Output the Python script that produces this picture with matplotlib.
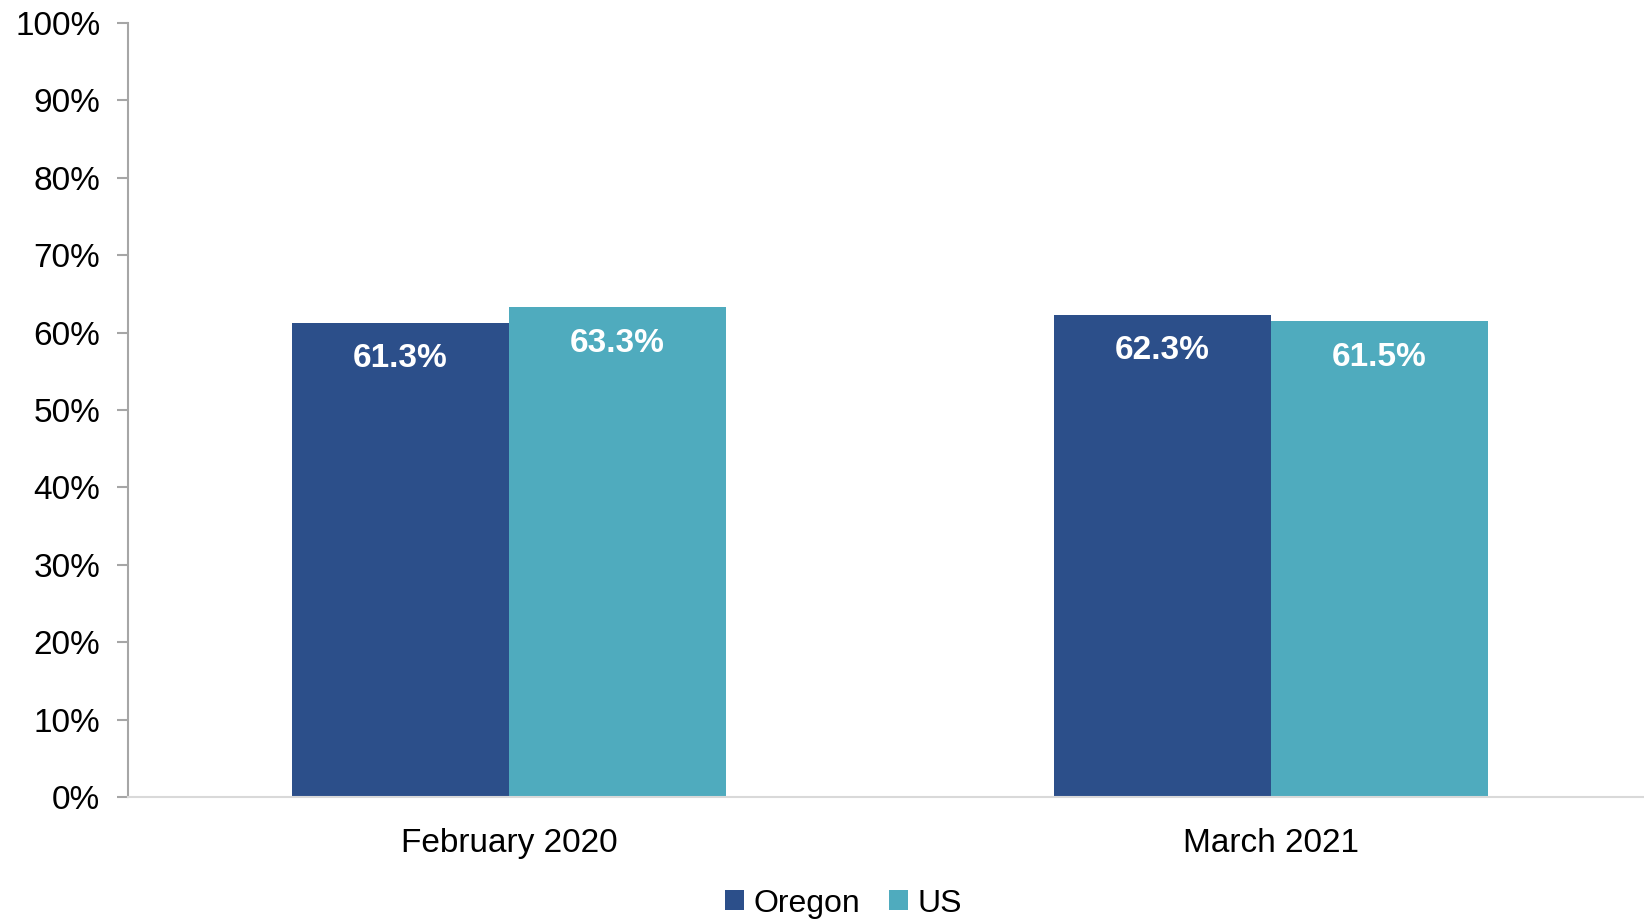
import matplotlib.pyplot as plt
import numpy as np
from matplotlib.ticker import PercentFormatter

plt.rcParams['font.family'] = ['Liberation Sans', 'DejaVu Sans']

categories = ["February 2020", "March 2021"]
oregon = [61.3, 62.3]
us = [63.3, 61.5]
series_names = ["Oregon", "US"]
colors = ["#2C4F8A", "#4FABBE"]

fig = plt.figure(figsize=(16.44, 9.22), dpi=100)
ax = fig.add_axes([0.0779, 0.1356, 0.9221, 0.8394])

x = np.arange(len(categories))
width = 0.285

for i, (vals, name, col) in enumerate(zip([oregon, us], series_names, colors)):
    pos = x + (i - 0.5) * width
    bars = ax.bar(pos, vals, width, color=col, label=name)
    for b, v in zip(bars, vals):
        ax.annotate(f"{v:.1f}%", (b.get_x() + b.get_width() / 2, v),
                    xytext=(0, -26), textcoords="offset points",
                    ha="center", va="center", color="white",
                    fontsize=24, fontweight="bold")

ax.set_xlim(-0.5, 1.49)
ax.set_ylim(0, 100)
ax.set_yticks(range(0, 101, 10))
ax.yaxis.set_major_formatter(PercentFormatter(decimals=0))
ax.set_xticks(x)
ax.set_xticklabels(categories)
ax.tick_params(axis="y", labelsize=24, length=8, width=1.5, color="#A6A6A6", pad=12)
ax.tick_params(axis="x", labelsize=24, length=0, pad=22)

for s in ["top", "right"]:
    ax.spines[s].set_visible(False)
ax.spines["left"].set_color("#A6A6A6")
ax.spines["left"].set_linewidth(1.5)
ax.spines["bottom"].set_color("#D9D9D9")
ax.spines["bottom"].set_linewidth(1.5)

fig.legend(loc="center", bbox_to_anchor=(0.513, 0.02), ncol=2, frameon=False,
           fontsize=23, handlelength=0.6, handleheight=0.6, handletextpad=0.3,
           columnspacing=0.9)

fig.savefig("out.png", dpi=100)
